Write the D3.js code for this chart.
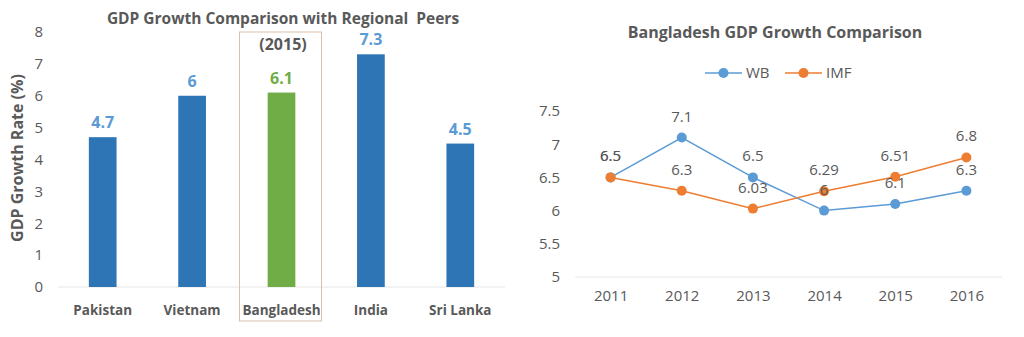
<!DOCTYPE html>
<html>
<head>
<meta charset="utf-8">
<script src="https://cdn.jsdelivr.net/npm/d3@7"></script>
<style>
  body { margin: 0; background: #fff; }
  svg { display: block; font-family: "Open Sans", "DejaVu Sans", sans-serif; }
</style>
</head>
<body>
<svg id="chart" width="1024" height="337"></svg>
<script>
// left chart data
var countries = ["Pakistan", "Vietnam", "Bangladesh", "India", "Sri Lanka"];
var growth2015 = [4.7, 6, 6.1, 7.3, 4.5];
var barTicks = [0, 1, 2, 3, 4, 5, 6, 7, 8];

// right chart data
var years = ["2011", "2012", "2013", "2014", "2015", "2016"];
var wbValues = [6.5, 7.1, 6.5, 6, 6.1, 6.3];
var imfValues = [6.5, 6.3, 6.03, 6.29, 6.51, 6.8];
var lineTicks = [5, 5.5, 6, 6.5, 7, 7.5];

var GRAY = "#595959";
var BAR_BLUE = "#2E75B6";
var BAR_GREEN = "#70AD47";
var WB_COLOR = "#5B9BD5";
var IMF_COLOR = "#ED7D31";

var svg = d3.select("#chart");

// ---------- bar chart ----------
var gBar = svg.append("g");

var xBar = d3.scaleBand()
    .domain(countries)
    .range([58, 505])
    .paddingInner(0.69)
    .paddingOuter(0.345);

var yBar = d3.scaleLinear()
    .domain([0, 8])
    .range([287, 32]);

gBar.append("text")
    .attr("x", 283).attr("y", 24)
    .attr("text-anchor", "middle")
    .style("white-space", "pre")
    .style("font-size", "15.5px").style("font-weight", "bold")
    .style("fill", GRAY)
    .text("GDP Growth Comparison with Regional  Peers");

gBar.append("text")
    .attr("x", 283).attr("y", 50)
    .attr("text-anchor", "middle")
    .style("font-size", "16px").style("font-weight", "bold")
    .style("fill", GRAY)
    .text("(2015)");

// baseline
gBar.append("line")
    .attr("x1", 58).attr("x2", 505)
    .attr("y1", yBar(0)).attr("y2", yBar(0))
    .style("stroke", "#e6e6e6").style("stroke-width", 1);

var yAxisBar = d3.axisLeft(yBar).tickValues(barTicks).tickSize(0).tickPadding(0);
gBar.append("g")
    .attr("transform", "translate(43,0)")
    .call(yAxisBar)
    .call(function(g) { g.select(".domain").remove(); })
    .selectAll("text")
    .style("font-size", "15px").style("fill", GRAY)
    .style("font-family", "\"Open Sans\", sans-serif");

gBar.append("text")
    .attr("transform", "translate(23,158) rotate(-90)")
    .attr("text-anchor", "middle")
    .style("font-size", "16px").style("font-weight", "bold")
    .style("fill", GRAY)
    .text("GDP Growth Rate (%)");

gBar.selectAll("rect.bar")
    .data(countries)
    .enter().append("rect")
    .attr("class", "bar")
    .attr("x", function(d) { return xBar(d); })
    .attr("width", xBar.bandwidth())
    .attr("y", function(d, i) { return yBar(growth2015[i]); })
    .attr("height", function(d, i) { return yBar(0) - yBar(growth2015[i]); })
    .style("fill", function(d) { return d == "Bangladesh" ? BAR_GREEN : BAR_BLUE; });

gBar.selectAll("text.val")
    .data(countries)
    .enter().append("text")
    .attr("class", "val")
    .attr("x", function(d) { return xBar(d) + xBar.bandwidth() / 2; })
    .attr("y", function(d, i) { return yBar(growth2015[i]) - 9; })
    .attr("text-anchor", "middle")
    .style("font-size", "16px").style("font-weight", "bold")
    .style("fill", function(d) { return d == "Bangladesh" ? BAR_GREEN : WB_COLOR; })
    .text(function(d, i) { return growth2015[i]; });

gBar.selectAll("text.cat")
    .data(countries)
    .enter().append("text")
    .attr("class", "cat")
    .attr("x", function(d) { return xBar(d) + xBar.bandwidth() / 2; })
    .attr("y", 315)
    .attr("text-anchor", "middle")
    .style("font-size", "13.5px").style("font-weight", "bold")
    .style("fill", GRAY)
    .text(function(d) { return d; });

// highlight box round Bangladesh
var bx = xBar("Bangladesh") + xBar.bandwidth() / 2;
gBar.append("rect")
    .attr("x", bx - 42).attr("y", 32)
    .attr("width", 82).attr("height", 289)
    .style("fill", "none")
    .style("stroke", "#DDBFA8").style("stroke-width", 1);

// ---------- line chart ----------
var gLine = svg.append("g");

var xLine = d3.scalePoint()
    .domain(years)
    .range([575, 1002])
    .padding(0.5);

var yLine = d3.scaleLinear()
    .domain([5, 7.5])
    .range([277, 111]);

gLine.append("text")
    .attr("x", 775).attr("y", 38)
    .attr("text-anchor", "middle")
    .style("font-size", "16px").style("font-weight", "bold")
    .style("fill", GRAY)
    .text("Bangladesh GDP Growth Comparison");

gLine.append("line")
    .attr("x1", 575).attr("x2", 1002)
    .attr("y1", yLine(5)).attr("y2", yLine(5))
    .style("stroke", "#e6e6e6").style("stroke-width", 1);

gLine.append("g")
    .attr("transform", "translate(560,0)")
    .call(d3.axisLeft(yLine).tickValues(lineTicks).tickSize(0).tickPadding(0)
        .tickFormat(function(d) { return d; }))
    .call(function(g) { g.select(".domain").remove(); })
    .selectAll("text")
    .style("font-size", "15px").style("fill", GRAY)
    .style("font-family", "\"Open Sans\", sans-serif");

gLine.append("g")
    .attr("transform", "translate(0,290)")
    .call(d3.axisBottom(xLine).tickSize(0).tickPadding(0))
    .call(function(g) { g.select(".domain").remove(); })
    .selectAll("text")
    .style("font-size", "15px").style("fill", GRAY)
    .style("font-family", "\"Open Sans\", sans-serif");

var series = [
    { name: "WB", values: wbValues, color: WB_COLOR },
    { name: "IMF", values: imfValues, color: IMF_COLOR }
];

var line = d3.line()
    .x(function(d, i) { return xLine(years[i]); })
    .y(function(d) { return yLine(d); });

series.forEach(function(s) {
    gLine.append("path")
        .datum(s.values)
        .attr("d", line)
        .style("fill", "none")
        .style("stroke", s.color)
        .style("stroke-width", 1.5);
    gLine.selectAll("circle." + s.name)
        .data(s.values)
        .enter().append("circle")
        .attr("class", s.name)
        .attr("cx", function(d, i) { return xLine(years[i]); })
        .attr("cy", function(d) { return yLine(d); })
        .attr("r", 5)
        .style("fill", s.color);
});

series.forEach(function(s) {
    gLine.selectAll("text.lbl" + s.name)
        .data(s.values)
        .enter().append("text")
        .attr("class", "lbl" + s.name)
        .attr("x", function(d, i) { return xLine(years[i]); })
        .attr("y", function(d) { return yLine(d) - 16; })
        .attr("text-anchor", "middle")
        .style("font-size", "15px")
        .style("fill", GRAY)
        .text(function(d) { return d; });
});

// legend
var legend = gLine.append("g").attr("transform", "translate(0,73)");
var legendItems = [
    { name: "WB", color: WB_COLOR, x: 705 },
    { name: "IMF", color: IMF_COLOR, x: 785 }
];
legendItems.forEach(function(l) {
    legend.append("line")
        .attr("x1", l.x).attr("x2", l.x + 37)
        .attr("y1", 0).attr("y2", 0)
        .style("stroke", l.color).style("stroke-width", 1.5);
    legend.append("circle")
        .attr("cx", l.x + 18.5).attr("cy", 0).attr("r", 5)
        .style("fill", l.color);
    legend.append("text")
        .attr("x", l.x + 41).attr("y", 5)
        .style("font-size", "15px").style("fill", GRAY)
        .text(l.name);
});
</script>
</body>
</html>
